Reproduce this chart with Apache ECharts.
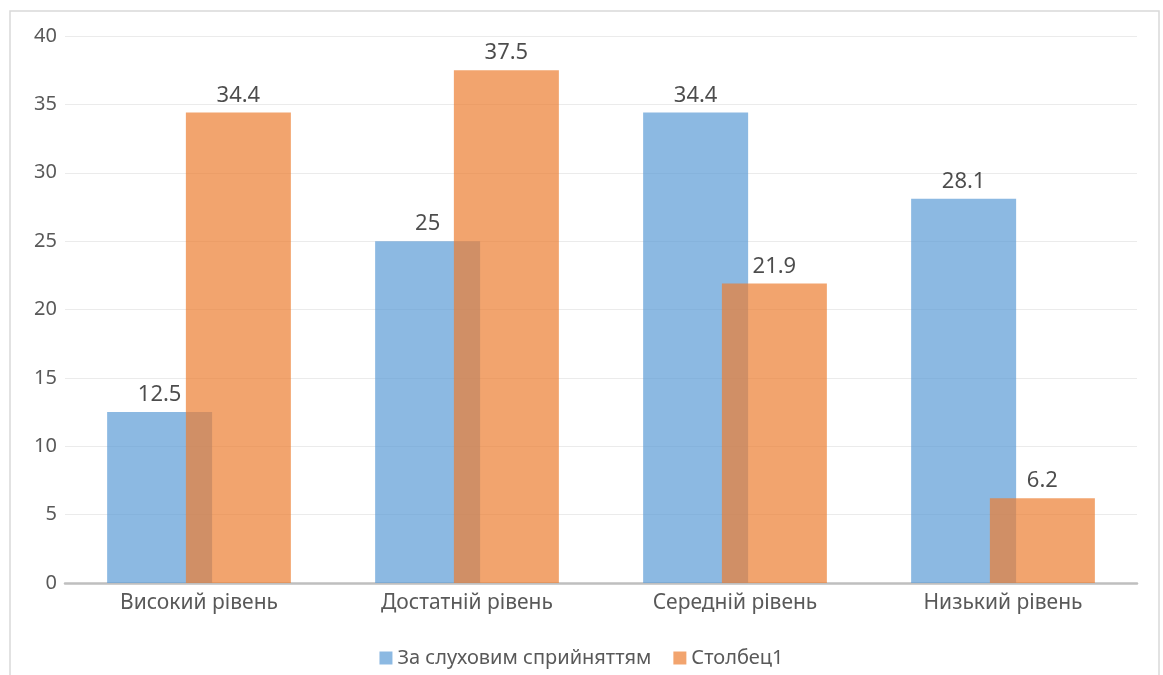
<!DOCTYPE html>
<html>
<head>
<meta charset="utf-8">
<script src="https://cdn.jsdelivr.net/npm/echarts@6/dist/echarts.min.js"></script>
<style>
html, body { margin: 0; padding: 0; background: #fff; }
#chart { width: 1163px; height: 675px; }
</style>
</head>
<body>
<div id="chart"></div>
<script>
var categories = ['Високий рівень', 'Достатній рівень', 'Середній рівень', 'Низький рівень'];
var seriesNames = ['За слуховим сприйняттям', 'Столбец1'];
var hearing = [12.5, 25, 34.4, 28.1];
var column1 = [34.4, 37.5, 21.9, 6.2];

var myChart = echarts.init(document.getElementById('chart'));
var font = 'Noto Sans';
var option = {
	animation : false,
	textStyle : { fontFamily : font },
	graphic : [ {
		type : 'rect',
		shape : { x : 10, y : 11, width : 1149, height : 700 },
		style : { fill : 'none', stroke : '#d9d9d9', lineWidth : 1.5 },
		silent : true
	} ],
	grid : { left : 65, right : 26, top : 36, bottom : 92 },
	legend : {
		bottom : 2,
		itemWidth : 13,
		itemHeight : 13,
		itemGap : 22,
		icon : 'rect',
		textStyle : { fontSize : 20, color : '#595959', fontFamily : font },
		data : seriesNames
	},
	xAxis : {
		type : 'category',
		data : categories,
		axisLine : { lineStyle : { color : '#bfbfbf', width : 2.5 } },
		axisTick : { show : false },
		axisLabel : { fontSize : 21, color : '#595959', margin : 10 }
	},
	yAxis : {
		type : 'value',
		min : 0,
		max : 40,
		interval : 5,
		axisLine : { show : false },
		axisLabel : { fontSize : 20, color : '#595959', margin : 8 },
		splitLine : { lineStyle : { color : '#ebebeb', width : 1 } }
	},
	series : [ {
		name : seriesNames[0],
		type : 'bar',
		data : hearing,
		barWidth : 105,
		barGap : '-25%',
		itemStyle : { color : '#5b9bd5', opacity : 0.7 },
		label : { show : true, position : 'top', distance : 6, fontSize : 22, color : '#000' }
	}, {
		name : seriesNames[1],
		type : 'bar',
		data : column1,
		barWidth : 105,
		itemStyle : { color : '#ed7d31', opacity : 0.7 },
		label : { show : true, position : 'top', distance : 6, fontSize : 22, color : '#000' }
	} ]
};
myChart.setOption(option);
</script>
</body>
</html>
